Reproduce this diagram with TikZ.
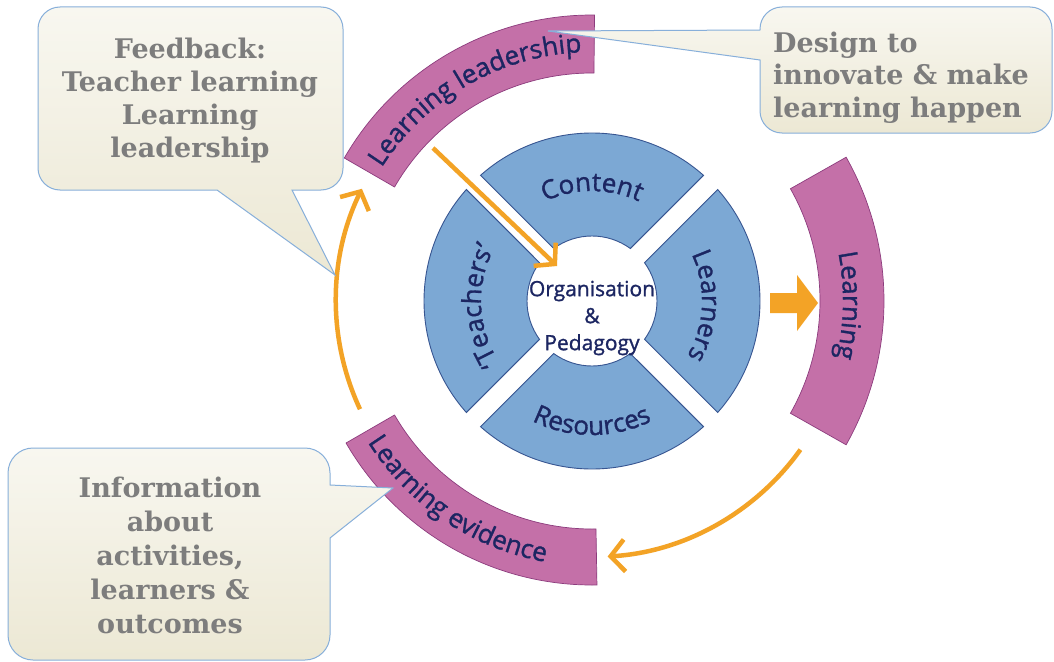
\documentclass[tikz,border=0pt]{standalone}
\usepackage{fontspec}
\usetikzlibrary{decorations.text,arrows.meta}
\newfontfamily\wfont{Open Sans}[FakeBold=1.2]
\newfontfamily\serifb{DejaVu Serif}
\definecolor{pinkfill}{RGB}{196,112,168}
\definecolor{pinkline}{RGB}{140,60,125}
\definecolor{bluefill}{RGB}{124,168,212}
\definecolor{blueline}{RGB}{55,85,145}
\definecolor{navy}{RGB}{28,38,98}
\definecolor{orng}{RGB}{243,163,38}
\definecolor{bubtop}{RGB}{248,247,240}
\definecolor{bubbot}{RGB}{236,232,212}
\definecolor{bubline}{RGB}{135,175,218}
\definecolor{bubtext}{RGB}{125,125,125}
\newcommand\wheelfont{\wfont\fontsize{26pt}{30pt}\selectfont}
\newcommand\centerfont{\wfont\fontsize{21pt}{27pt}\selectfont}
\newcommand\bubfontA{\serifb\bfseries\fontsize{27pt}{33pt}\selectfont}
\newcommand\bubfontB{\serifb\bfseries\fontsize{27pt}{32.5pt}\selectfont}
\newcommand\bubfontC{\serifb\bfseries\fontsize{27pt}{34pt}\selectfont}
\begin{document}
\begin{tikzpicture}[x=1pt,y=1pt,
  pinkband/.style={fill=pinkfill,draw=pinkline,line width=0.7pt},
  blueseg/.style={fill=bluefill,draw=blueline,line width=0.9pt},
  bubble/.style={draw=bubline,line width=1pt,top color=bubtop,bottom color=bubbot},
  bubtxt/.style={text=bubtext,inner sep=0pt},
  orarrow/.style={draw=orng,line width=4.5pt,-{Straight Barb[length=14pt,width=32pt]}},
  arclabel/.style={decorate,decoration={text along path,text align=center,text color=navy}},
]
\path[use as bounding box,fill=white] (0,0) rectangle (1054,-661);

% ---------- wheel ----------
\begin{scope}[shift={(592,-301)}]
  % pink bands
  \path[pinkband] (89.5:228) -- (89.5:286) arc[start angle=89.5,end angle=150,radius=286pt]
     -- (150:228) arc[start angle=150,end angle=89.5,radius=228pt] -- cycle;
  \path[pinkband] (-29.5:228) -- (-29.5:292) arc[start angle=-29.5,end angle=29.5,radius=292pt]
     -- (29.5:228) arc[start angle=29.5,end angle=-29.5,radius=228pt] -- cycle;
  \path[pinkband] (210:228) -- (210:284) arc[start angle=210,end angle=271,radius=284pt]
     -- (271:228) arc[start angle=271,end angle=210,radius=228pt] -- cycle;
  % pink labels
  \path[arclabel,decoration={text={|\wheelfont|Learning leadership}}]
     (152:249) arc[start angle=152,end angle=88,radius=249pt];
  \path[arclabel,decoration={text={|\wheelfont|Learning}}]
     (40:251) arc[start angle=40,end angle=-42,radius=251pt];
  \path[arclabel,decoration={text={|\wheelfont|Learning evidence}}]
     (201:265) arc[start angle=201,end angle=271,radius=265pt];

  % blue segments
  \foreach \a in {90,0,270,180}{
    \path[blueseg] ({\a-41.59}:168) arc[start angle={\a-41.59},end angle={\a+41.59},radius=168pt]
      -- ({\a+36.15}:65) arc[start angle={\a+36.15},end angle={\a-36.15},radius=65pt] -- cycle;
  }
  % blue labels
  \path[arclabel,decoration={text={|\wheelfont|Content}}]
     (135:110) arc[start angle=135,end angle=45,radius=110pt];
  \path[arclabel,decoration={text={|\wheelfont|Learners}}]
     (43:110) arc[start angle=43,end angle=-48,radius=110pt];
  \path[arclabel,decoration={text={|\wheelfont|Resources}}]
     (225:134) arc[start angle=225,end angle=315,radius=134pt];
  \path[arclabel,decoration={text={|\wheelfont|‘Teachers’}}]
     (228:111) arc[start angle=228,end angle=137,radius=111pt];

  % orange curved arrows
  \coordinate (fbstart) at (205:256);
  \coordinate (evstart) at (-35.5:256);
  \draw[orarrow] (fbstart) arc[start angle=205,end angle=154,radius=256pt];
  \draw[orarrow] (evstart) arc[start angle=-35.5,end angle=-86.5,radius=256pt];
\end{scope}

\node[font=\centerfont,text=navy,align=center,inner sep=0pt] (core) at (592,-318)
  {Organisation\\\&\\Pedagogy};

% diagonal arrow
\coordinate (lead) at (433,-148);
\coordinate (org) at (557,-266);
\draw[orarrow] (lead) -- (org);

% block arrow
\fill[orng] (770,-293) -- (797,-293) -- (797,-275) -- (818,-303) -- (797,-331)
  -- (797,-313) -- (770,-313) -- cycle;

% ---------- callouts ----------
\path[bubble] (60,-7) -- (321,-7) arc[start angle=90,end angle=0,radius=22pt]
  -- (343,-168) arc[start angle=0,end angle=-90,radius=22pt]
  -- (292,-190) -- (335,-275) -- (217,-190)
  -- (60,-190) arc[start angle=270,end angle=180,radius=22pt]
  -- (38,-29) arc[start angle=180,end angle=90,radius=22pt] -- cycle;
\node[bubtxt,font=\bubfontA,align=center] (fb) at (190,-100.5)
  {Feedback:\\Teacher learning\\Learning\\leadership};

\path[bubble] (782,-7) -- (1030,-7) arc[start angle=90,end angle=0,radius=22pt]
  -- (1052,-111) arc[start angle=0,end angle=-90,radius=22pt]
  -- (782,-133) arc[start angle=270,end angle=180,radius=22pt]
  -- (760,-60) -- (548,-31) -- (760,-30)
  -- (760,-29) arc[start angle=180,end angle=90,radius=22pt] -- cycle;
\node[bubtxt,font=\bubfontB,align=left,anchor=west] (design) at (773,-77.5)
  {Design to\\innovate \& make\\learning happen};

\path[bubble] (33,-448) -- (305,-448) arc[start angle=90,end angle=0,radius=25pt]
  -- (330,-485) -- (393,-488) -- (330,-538)
  -- (330,-635) arc[start angle=0,end angle=-90,radius=25pt]
  -- (33,-660) arc[start angle=270,end angle=180,radius=25pt]
  -- (8,-473) arc[start angle=180,end angle=90,radius=25pt] -- cycle;
\node[bubtxt,font=\bubfontC,align=center] (info) at (170,-555)
  {Information\\about\\activities,\\learners \&\\outcomes};
\end{tikzpicture}
\end{document}
